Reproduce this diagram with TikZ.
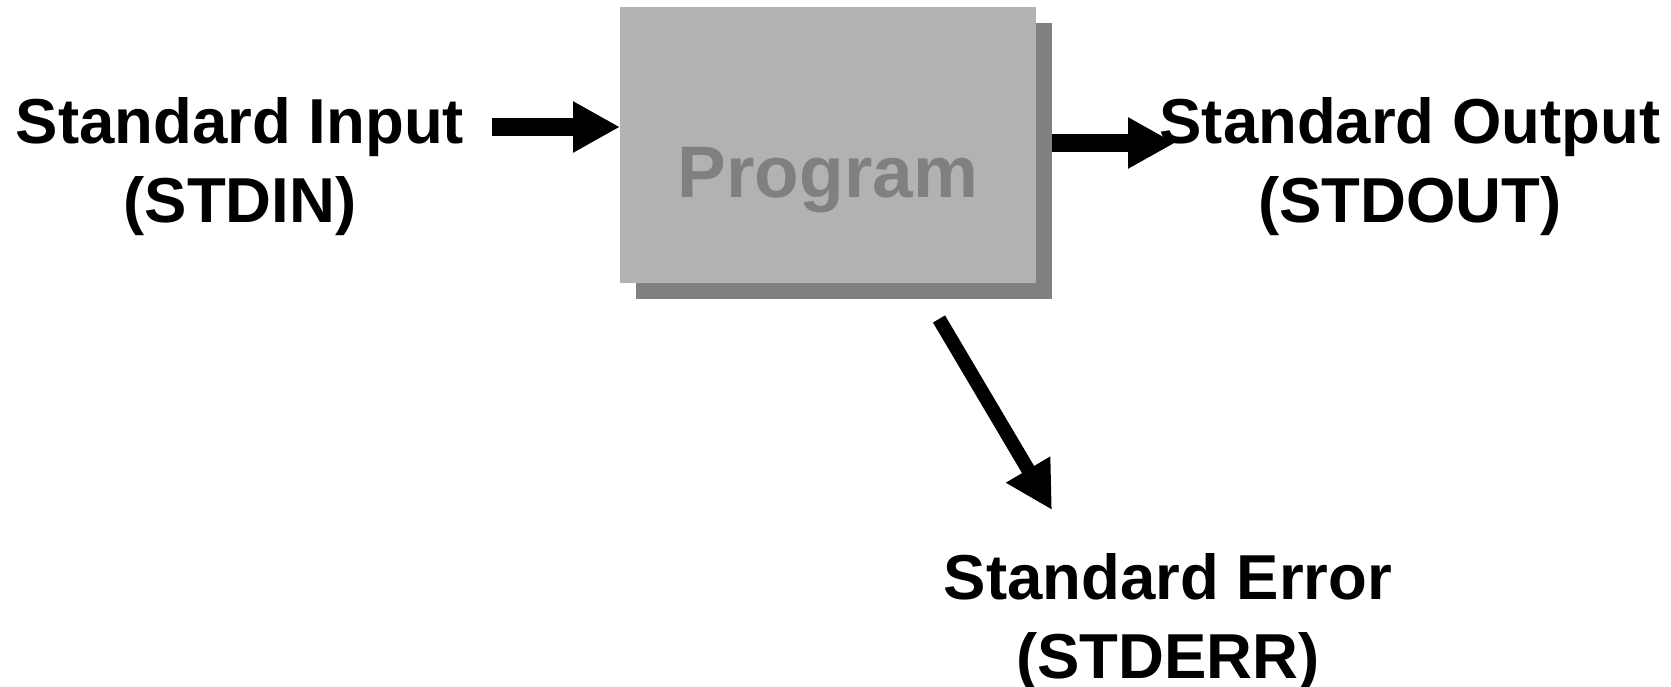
\documentclass[tikz,border=0pt]{standalone}
\usepackage{fontspec}
\setmainfont{Liberation Sans}
\usetikzlibrary{arrows.meta}
\definecolor{boxgray}{HTML}{B2B2B2}
\definecolor{shadowgray}{HTML}{808080}
\begin{document}
\begin{tikzpicture}[x=1pt,y=-1pt,
  lbl/.style={font=\fontsize{63.5}{79}\selectfont\bfseries, align=center, anchor=base, inner sep=0pt},
  flow/.style={line width=18pt, -{Triangle[length=47pt,width=48pt]}},
  panel/.style={minimum width=416pt, minimum height=276pt, inner sep=0pt, anchor=north west},
]
\useasboundingbox (0,0) rectangle (1671,687);
\node[panel, fill=shadowgray] (shadow) at (636,23) {};
\node[panel, fill=boxgray] (prog) at (620,7) {};
\node[font=\fontsize{73}{80}\selectfont\bfseries, text=shadowgray, anchor=base, inner sep=0pt] (progtxt) at (828,198) {Program};

\coordinate (inS) at (492,127);
\draw[flow] (inS) -- (inS -| prog.west);
\coordinate (outE) at (1175,143);
\draw[flow] (shadow.east |- outE) -- (outE);
\coordinate (errS) at (939,319);
\coordinate (errE) at (1052,510);
\draw[flow, line width=14pt] (errS) -- (errE);

\node[lbl] (stdin) at (240,223) {Standard Input\\(STDIN)};
\node[lbl] (stdout) at (1410,223) {Standard Output\\(STDOUT)};
\node[lbl] (stderr) at (1168,678) {Standard Error\\(STDERR)};
\end{tikzpicture}
\end{document}
